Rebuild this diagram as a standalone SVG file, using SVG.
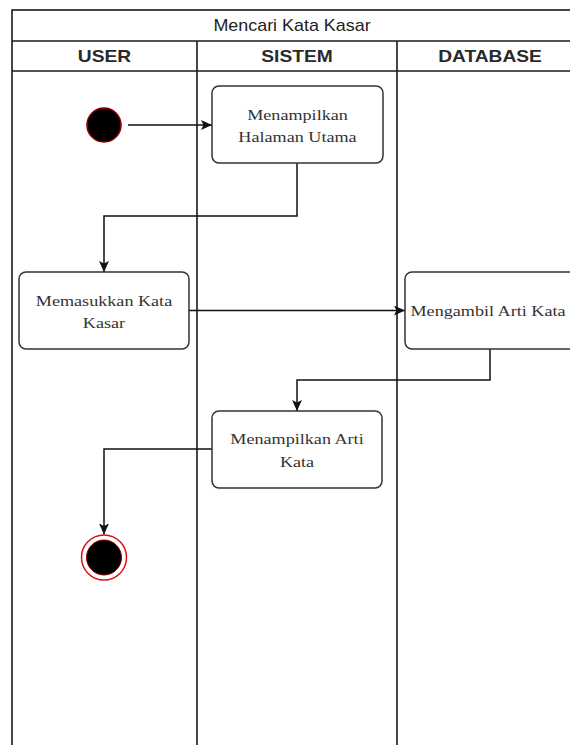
<svg xmlns="http://www.w3.org/2000/svg" width="570" height="745" viewBox="0 0 570 745">
  <style>
    .frame { fill: none; stroke: #1a1a1a; stroke-width: 1.6; }
    .act { fill: #ffffff; stroke: #333333; stroke-width: 1.5; }
    .title { font-family: "Liberation Sans", Arial, sans-serif; font-size: 16px; fill: #222222; text-anchor: middle; }
    .head { font-family: "Liberation Sans", Arial, sans-serif; font-size: 16px; font-weight: bold; fill: #2a2a2a; text-anchor: middle; }
    .lbl { font-family: "Liberation Serif", "Times New Roman", serif; font-size: 15.5px; fill: #333333; text-anchor: middle; }
    .flow { fill: none; stroke: #111111; stroke-width: 1.5; }
  </style>
  <defs>
    <marker id="arrow" viewBox="0 0 11 10" markerWidth="11" markerHeight="10" refX="11" refY="5" orient="auto" markerUnits="userSpaceOnUse">
      <path d="M0,0 L11,5 L0,10 L2.5,5 Z" fill="#111111"/>
    </marker>
  </defs>

  <rect width="570" height="745" fill="#ffffff"/>

  <!-- pool with three swimlanes -->
  <g id="pool">
    <rect class="frame" x="12" y="10" width="571" height="760"/>
    <line class="frame" x1="12" y1="41" x2="583" y2="41"/>
    <line class="frame" x1="12" y1="71" x2="583" y2="71"/>
    <text class="title" transform="matrix(1.12,0,0,1,292,31)">Mencari Kata Kasar</text>
  </g>
  <g id="lane-user">
    <text class="head" transform="matrix(1.2,0,0,1,104.5,62)">USER</text>
  </g>
  <g id="lane-sistem">
    <line class="frame" x1="197" y1="41" x2="197" y2="760"/>
    <text class="head" transform="matrix(1.2,0,0,1,297,62)">SISTEM</text>
  </g>
  <g id="lane-database">
    <line class="frame" x1="397" y1="41" x2="397" y2="760"/>
    <text class="head" transform="matrix(1.2,0,0,1,490,62)">DATABASE</text>
  </g>

  <!-- connectors -->
  <g id="connectors">
    <path class="flow" d="M128,125 H212" marker-end="url(#arrow)"/>
    <path class="flow" d="M297,163 V216 H104 V272" marker-end="url(#arrow)"/>
    <path class="flow" d="M189,310.5 H405" marker-end="url(#arrow)"/>
    <path class="flow" d="M490,349 V380 H297 V411" marker-end="url(#arrow)"/>
    <path class="flow" d="M212,449 H104 V534.5" marker-end="url(#arrow)"/>
  </g>

  <!-- initial node -->
  <g id="start">
    <circle cx="104" cy="125" r="17" fill="#000000" stroke="#8b0000" stroke-width="1.5"/>
  </g>

  <g id="menampilkan-halaman-utama">
    <rect class="act" x="212" y="86" width="171" height="77" rx="7"/>
    <text class="lbl" transform="matrix(1.17,0,0,1,297.5,119.5)">Menampilkan</text>
    <text class="lbl" transform="matrix(1.17,0,0,1,297.5,142)">Halaman Utama</text>
  </g>

  <g id="memasukkan-kata-kasar">
    <rect class="act" x="19" y="272" width="170" height="77" rx="7"/>
    <text class="lbl" transform="matrix(1.17,0,0,1,104,305.5)">Memasukkan Kata</text>
    <text class="lbl" transform="matrix(1.17,0,0,1,104,328)">Kasar</text>
  </g>

  <g id="mengambil-arti-kata">
    <rect class="act" x="405" y="272" width="172" height="77" rx="7"/>
    <text class="lbl" transform="matrix(1.17,0,0,1,488,315.5)">Mengambil Arti Kata</text>
  </g>

  <g id="menampilkan-arti-kata">
    <rect class="act" x="212" y="411" width="170" height="77" rx="7"/>
    <text class="lbl" transform="matrix(1.17,0,0,1,297,444)">Menampilkan Arti</text>
    <text class="lbl" transform="matrix(1.17,0,0,1,297,467)">Kata</text>
  </g>

  <!-- final node -->
  <g id="end">
    <circle cx="104" cy="557.5" r="22.5" fill="#ffffff" stroke="#e01010" stroke-width="1.5"/>
    <circle cx="104" cy="557.5" r="17.5" fill="#000000" stroke="#8b0000" stroke-width="1"/>
  </g>
</svg>
